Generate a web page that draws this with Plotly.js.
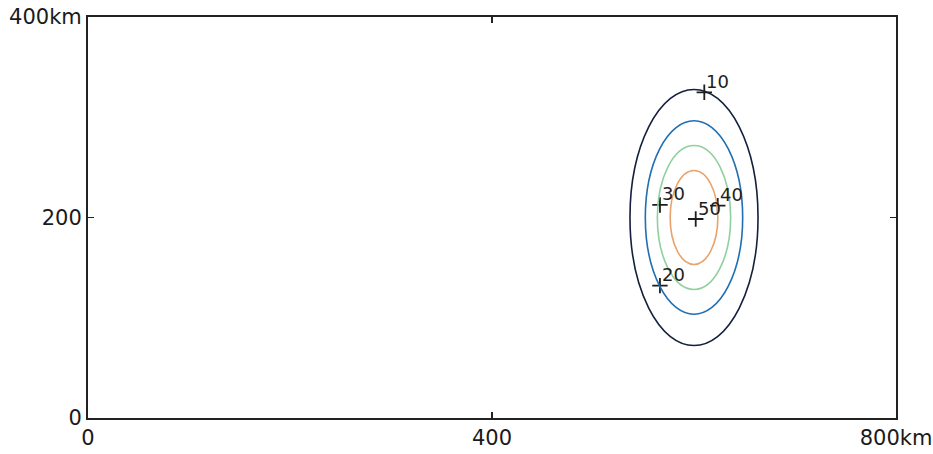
<!DOCTYPE html>
<html>
<head>
<meta charset="utf-8">
<script src="https://cdn.plot.ly/plotly-3.0.1.min.js"></script>
<style>html,body{margin:0;padding:0;background:#fff;}#chart{width:933px;height:454px;}</style>
</head>
<body>
<div id="chart"></div>
<script>
// Contour levels and ellipse sizes (km)
const levels = [10, 20, 30, 40];
const centerX = 600;
const centerY = 200;
const semiX = [63.4, 48.2, 36.3, 23.6];
const semiY = [127.7, 96.5, 71.8, 46.9];
const levelColors = ['#14213d', '#1f6fb2', '#8fd19e', '#e9a26a'];

// Contour labels ("+" markers)
const labelText = ['10', '30', '40', '50', '20'];
const labelX = [610.2, 566.3, 623.5, 601.7, 566.3];
const labelY = [324.9, 212.5, 211.8, 198.5, 132.0];

// Axis ticks
const xTickVals = [0, 400, 800];
const xTickText = ['0', '400', '800km'];
const yTickVals = [0, 200, 400];
const yTickText = ['0', '200', '400km'];

const FONT = 'DejaVu Sans, Verdana, sans-serif';

const shapes = levels.map((lv, i) => ({
  type: 'circle', xref: 'x', yref: 'y',
  x0: centerX - semiX[i], x1: centerX + semiX[i],
  y0: centerY - semiY[i], y1: centerY + semiY[i],
  line: {color: levelColors[i], width: 1.6}
}));

const annotations = labelText.map((t, i) => ({
  x: labelX[i], y: labelY[i], xref: 'x', yref: 'y', text: t,
  showarrow: false, xanchor: 'left', yanchor: 'middle',
  xshift: 0, yshift: 11,
  font: {family: FONT, size: 18, color: '#1e1e1e'}
}));

const traces = [{
  type: 'scatter', mode: 'markers',
  x: labelX, y: labelY,
  marker: {symbol: 'cross-thin', size: 11, line: {color: '#1e1e1e', width: 1.8}, color: '#1e1e1e'},
  hoverinfo: 'none', showlegend: false, cliponaxis: false
}];

const axisCommon = {
  showgrid: false, zeroline: false, showline: true, linecolor: '#222', linewidth: 2,
  mirror: 'ticks', ticks: 'inside', ticklen: 6, tickwidth: 1.5, tickcolor: '#222',
  tickfont: {family: FONT, size: 21, color: '#1a1a1a'},
  fixedrange: true
};

const layout = {
  width: 933, height: 454,
  margin: {l: 88, r: 37, t: 17, b: 36},
  paper_bgcolor: '#fff', plot_bgcolor: '#fff',
  xaxis: Object.assign({}, axisCommon, {range: [0, 800], tickvals: xTickVals, ticktext: xTickText}),
  yaxis: Object.assign({}, axisCommon, {range: [0, 400], tickvals: yTickVals, ticktext: yTickText}),
  shapes: shapes,
  annotations: annotations,
  showlegend: false
};

Plotly.newPlot('chart', traces, layout, {displayModeBar: false, staticPlot: true});
</script>
</body>
</html>
